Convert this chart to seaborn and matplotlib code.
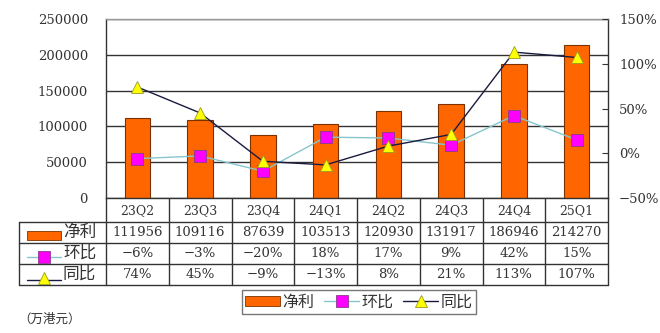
import matplotlib
matplotlib.use('Agg')
import matplotlib.pyplot as plt
import seaborn as sns
import numpy as np
import pandas as pd
from matplotlib.lines import Line2D
from matplotlib.patches import Patch, Rectangle

# ---- data ----
quarters = ['23Q2', '23Q3', '23Q4', '24Q1', '24Q2', '24Q3', '24Q4', '25Q1']
net_profit = [111956, 109116, 87639, 103513, 120930, 131917, 186946, 214270]
qoq = [-6, -3, -20, 18, 17, 9, 42, 15]
yoy = [74, 45, -9, -13, 8, 21, 113, 107]
left_ticks = [0, 50000, 100000, 150000, 200000, 250000]
right_ticks = [-50, 0, 50, 100, 150]
series_names = ['净利', '环比', '同比']
unit_label = '（万港元）'

# ---- style ----
sns.set_style('white')
plt.rcParams['font.family'] = ['DejaVu Serif', 'Noto Sans CJK SC']
CJK = ['Noto Sans CJK SC', 'DejaVu Sans']
NUM_FS = 9.5

BAR_C, BAR_E = '#FF6600', '#7A3300'
QOQ_LINE, QOQ_MK, QOQ_ME = '#86C5CC', '#FF00FF', '#8A3A8A'
YOY_LINE, YOY_MK, YOY_ME = '#1A1A40', '#FFFF00', '#9A9A20'
TXT = '#333333'


def pct(v):
    return f'{v}%'.replace('-', '\u2212')


W, H = 660, 333
fig = plt.figure(figsize=(W / 100, H / 100), dpi=100)
fig.patch.set_facecolor('white')


def fx(px):
    return px / W


def fy(py):
    return 1 - py / H


L, R, T, B = 106, 608, 19, 198
ax = fig.add_axes([fx(L), fy(B), fx(R - L), (B - T) / H])

df = pd.DataFrame({'q': quarters, 'net': net_profit, 'qoq': qoq, 'yoy': yoy,
                   'i': np.arange(len(quarters))})

sns.barplot(data=df, x='q', y='net', ax=ax, color=BAR_C, width=0.41,
            edgecolor=BAR_E, linewidth=0.8, saturation=1, zorder=2)
ax.set_xlim(-0.5, len(quarters) - 0.5)
ax.set_ylim(0, 250000)
ax.set_yticks(left_ticks)
ax.set_yticklabels([str(v) for v in left_ticks], fontsize=NUM_FS, color=TXT)
ax.set_xticks([])
ax.set_xlabel('')
ax.set_ylabel('')
ax.grid(axis='y', color='#333333', lw=1)
ax.set_axisbelow(True)
ax.tick_params(axis='y', length=0, pad=13)
ax.spines['top'].set_color('#999999')
ax.spines['left'].set_color('#333333')
ax.spines['bottom'].set_color('#333333')
ax.spines['right'].set_color('#333333')
for s in ax.spines.values():
    s.set_linewidth(1)

ax2 = ax.twinx()
sns.lineplot(data=df, x='i', y='qoq', ax=ax2, color=QOQ_LINE, lw=1,
             marker='s', markersize=8, markerfacecolor=QOQ_MK,
             markeredgecolor=QOQ_ME, markeredgewidth=0.6, legend=False)
sns.lineplot(data=df, x='i', y='yoy', ax=ax2, color=YOY_LINE, lw=1,
             marker='^', markersize=9, markerfacecolor=YOY_MK,
             markeredgecolor=YOY_ME, markeredgewidth=0.6, legend=False)
ax2.set_ylim(-50, 150)
ax2.set_xlim(-0.5, len(quarters) - 0.5)
ax2.set_yticks(right_ticks)
ax2.set_yticklabels([pct(v) for v in right_ticks], fontsize=NUM_FS, color=TXT)
ax2.tick_params(axis='y', direction='in', length=4, pad=8, color='#333333')
ax2.set_xlabel('')
ax2.set_ylabel('')
for s in ax2.spines.values():
    s.set_visible(False)

# ---- data table ----
tab = fig.add_axes([0, 0, 1, 1], zorder=-1)
tab.set_xlim(0, W)
tab.set_ylim(H, 0)
tab.axis('off')
n = len(quarters)
cw = (R - L) / n
rows_y = [199, 222, 243, 264, 285]
TL = 19
lc = '#333333'
for y in rows_y[1:]:
    tab.plot([TL, R], [y, y], color=lc, lw=1)
tab.plot([TL, TL], [rows_y[1], rows_y[-1]], color=lc, lw=1)
for k in range(n + 1):
    xk = L + k * cw
    tab.plot([xk, xk], [B, rows_y[-1]], color=lc, lw=1)

cy = [(rows_y[j] + rows_y[j + 1]) / 2 for j in range(4)]
for k, q in enumerate(quarters):
    xc = L + (k + 0.5) * cw
    tab.text(xc, cy[0], q, ha='center', va='center', fontsize=9, color=TXT)
    tab.text(xc, cy[1], str(net_profit[k]), ha='center', va='center', fontsize=NUM_FS, color=TXT)
    tab.text(xc, cy[2], pct(qoq[k]), ha='center', va='center', fontsize=NUM_FS, color=TXT)
    tab.text(xc, cy[3], pct(yoy[k]), ha='center', va='center', fontsize=NUM_FS, color=TXT)

# row header keys
ix0, ix1 = 27, 61
tab.add_patch(Rectangle((ix0, cy[1] - 2), ix1 - ix0, 9, facecolor=BAR_C, edgecolor=BAR_E, lw=0.6))
tab.plot([ix0, ix1], [cy[2] + 3] * 2, color=QOQ_LINE, lw=1)
tab.plot([(ix0 + ix1) / 2], [cy[2] + 3], marker='s', markersize=8, markerfacecolor=QOQ_MK,
         markeredgecolor=QOQ_ME, markeredgewidth=0.6, ls='none')
tab.plot([ix0, ix1], [cy[3] + 5] * 2, color=YOY_LINE, lw=1)
tab.plot([(ix0 + ix1) / 2], [cy[3] + 3], marker='^', markersize=9, markerfacecolor=YOY_MK,
         markeredgecolor=YOY_ME, markeredgewidth=0.6, ls='none')
for j, name in enumerate(series_names):
    tab.text(63, cy[j + 1], name, ha='left', va='center', fontsize=12, color=TXT, family=CJK)

# ---- legend ----
handles = [
    Patch(facecolor=BAR_C, edgecolor=BAR_E, lw=0.6),
    Line2D([], [], color=QOQ_LINE, lw=1, marker='s', markersize=8,
           markerfacecolor=QOQ_MK, markeredgecolor=QOQ_ME, markeredgewidth=0.6),
    Line2D([], [], color=YOY_LINE, lw=1, marker='^', markersize=9,
           markerfacecolor=YOY_MK, markeredgecolor=YOY_ME, markeredgewidth=0.6),
]
leg = fig.legend(handles, series_names, loc='center', bbox_to_anchor=(fx(359), fy(302)),
                 ncol=3, frameon=True, fancybox=False, edgecolor='#555555',
                 borderpad=0.2, handletextpad=0.15, columnspacing=0.6,
                 handlelength=2.2, handleheight=0.6,
                 prop={'family': CJK, 'size': 11.5})
leg.get_frame().set_linewidth(1)
for t in leg.get_texts():
    t.set_color(TXT)

fig.text(fx(18), fy(319), unit_label, ha='left', va='center', fontsize=9,
         color=TXT, family=CJK)

fig.savefig('out.png', dpi=100, facecolor='white')
